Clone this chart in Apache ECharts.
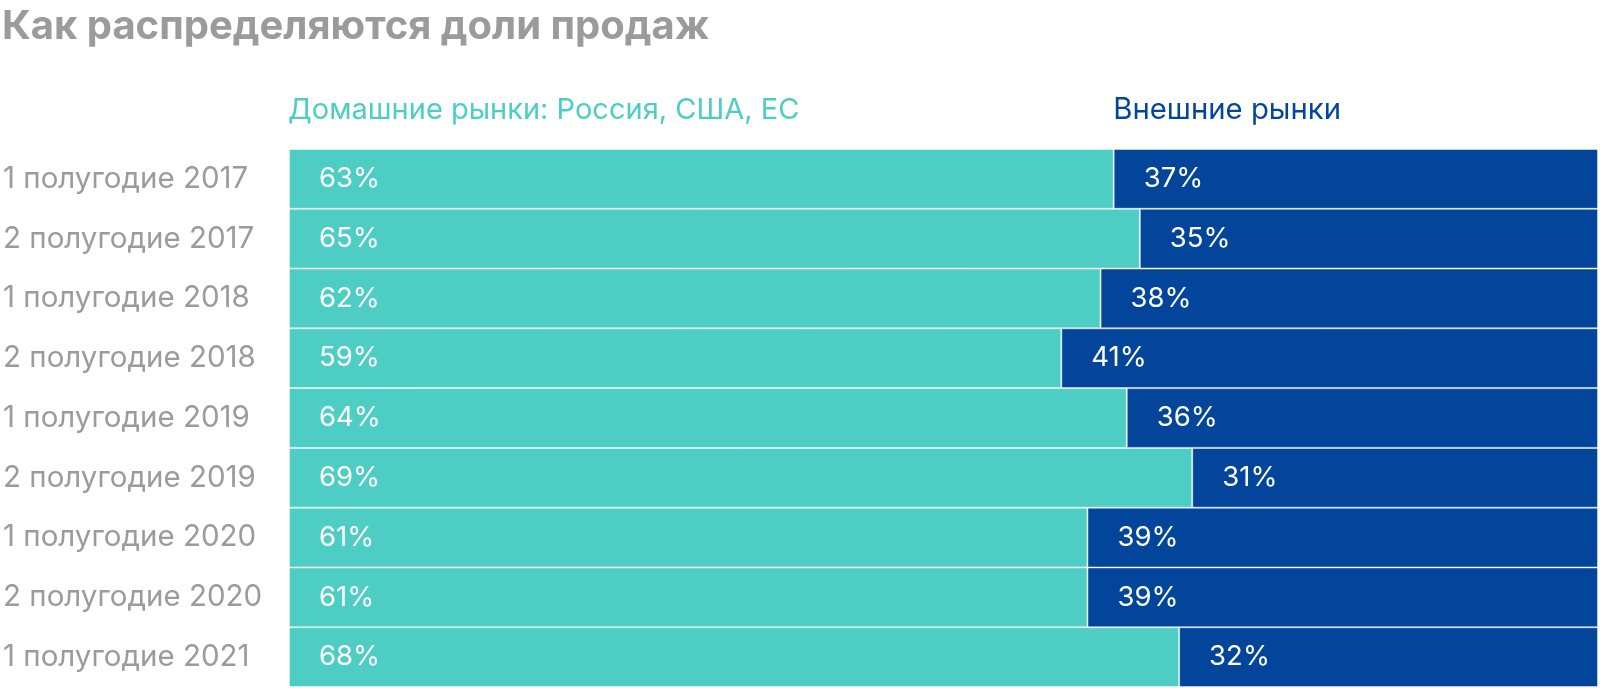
<!DOCTYPE html>
<html><head><meta charset="utf-8">
<script src="https://cdn.jsdelivr.net/npm/echarts@6/dist/echarts.min.js"></script>
<style>html,body{margin:0;padding:0;background:#fff}#c{width:1600px;height:688px}</style>
</head><body><div id="c"></div>
<script>
const categories = ['1 полугодие 2017','2 полугодие 2017','1 полугодие 2018','2 полугодие 2018','1 полугодие 2019','2 полугодие 2019','1 полугодие 2020','2 полугодие 2020','1 полугодие 2021'];
const domestic = [63,65,62,59,64,69,61,61,68];
const external = [37,35,38,41,36,31,39,39,32];
const seriesNames = ['Домашние рынки: Россия, США, ЕС','Внешние рынки'];
const titleText = 'Как распределяются доли продаж';

const chart = echarts.init(document.getElementById('c'));
const gridLeft = 288, gridRight = 2;
const plotW = 1600 - gridLeft - gridRight;
const F = 'Inter, Roboto, "Noto Sans", sans-serif';
const teal = '#4ECDC4', navy = '#02459A';
const lbl = {show:true, position:'insideLeft', distance:30, color:'#fff', fontSize:27.5, fontFamily:F, formatter:p=>p.value+'%'};
chart.setOption({
  animation:false,
  title:[
    {text:titleText, left:2, top:7, padding:0, textStyle:{color:'#9b9b9b', fontSize:40, fontWeight:'bold', fontFamily:F}},
    {text:seriesNames[0], left:gridLeft, top:96, padding:0, textStyle:{color:teal, fontSize:29, fontWeight:'normal', fontFamily:F}},
    {text:seriesNames[1], left:gridLeft + plotW*domestic[0]/100, top:96, padding:0, textStyle:{color:navy, fontSize:29.3, fontWeight:'normal', fontFamily:F}}
  ],
  grid:{left:gridLeft, right:gridRight, top:149, bottom:1, containLabel:false},
  xAxis:{type:'value', min:0, max:100, show:false},
  yAxis:{type:'category', data:categories, inverse:true,
    axisLine:{show:false}, axisTick:{show:false}, splitLine:{show:false},
    axisLabel:{align:'left', margin:286, color:'#9b9b9b', fontSize:29.5, fontFamily:F}},
  series:[
    {name:seriesNames[0], type:'bar', stack:'s', data:domestic, barCategoryGap:'0%',
      itemStyle:{color:teal, borderColor:'rgba(255,255,255,0.45)', borderWidth:1}, label:lbl},
    {name:seriesNames[1], type:'bar', stack:'s', data:external, barCategoryGap:'0%',
      itemStyle:{color:navy, borderColor:'rgba(255,255,255,0.45)', borderWidth:1}, label:lbl}
  ]
});
</script></body></html>
